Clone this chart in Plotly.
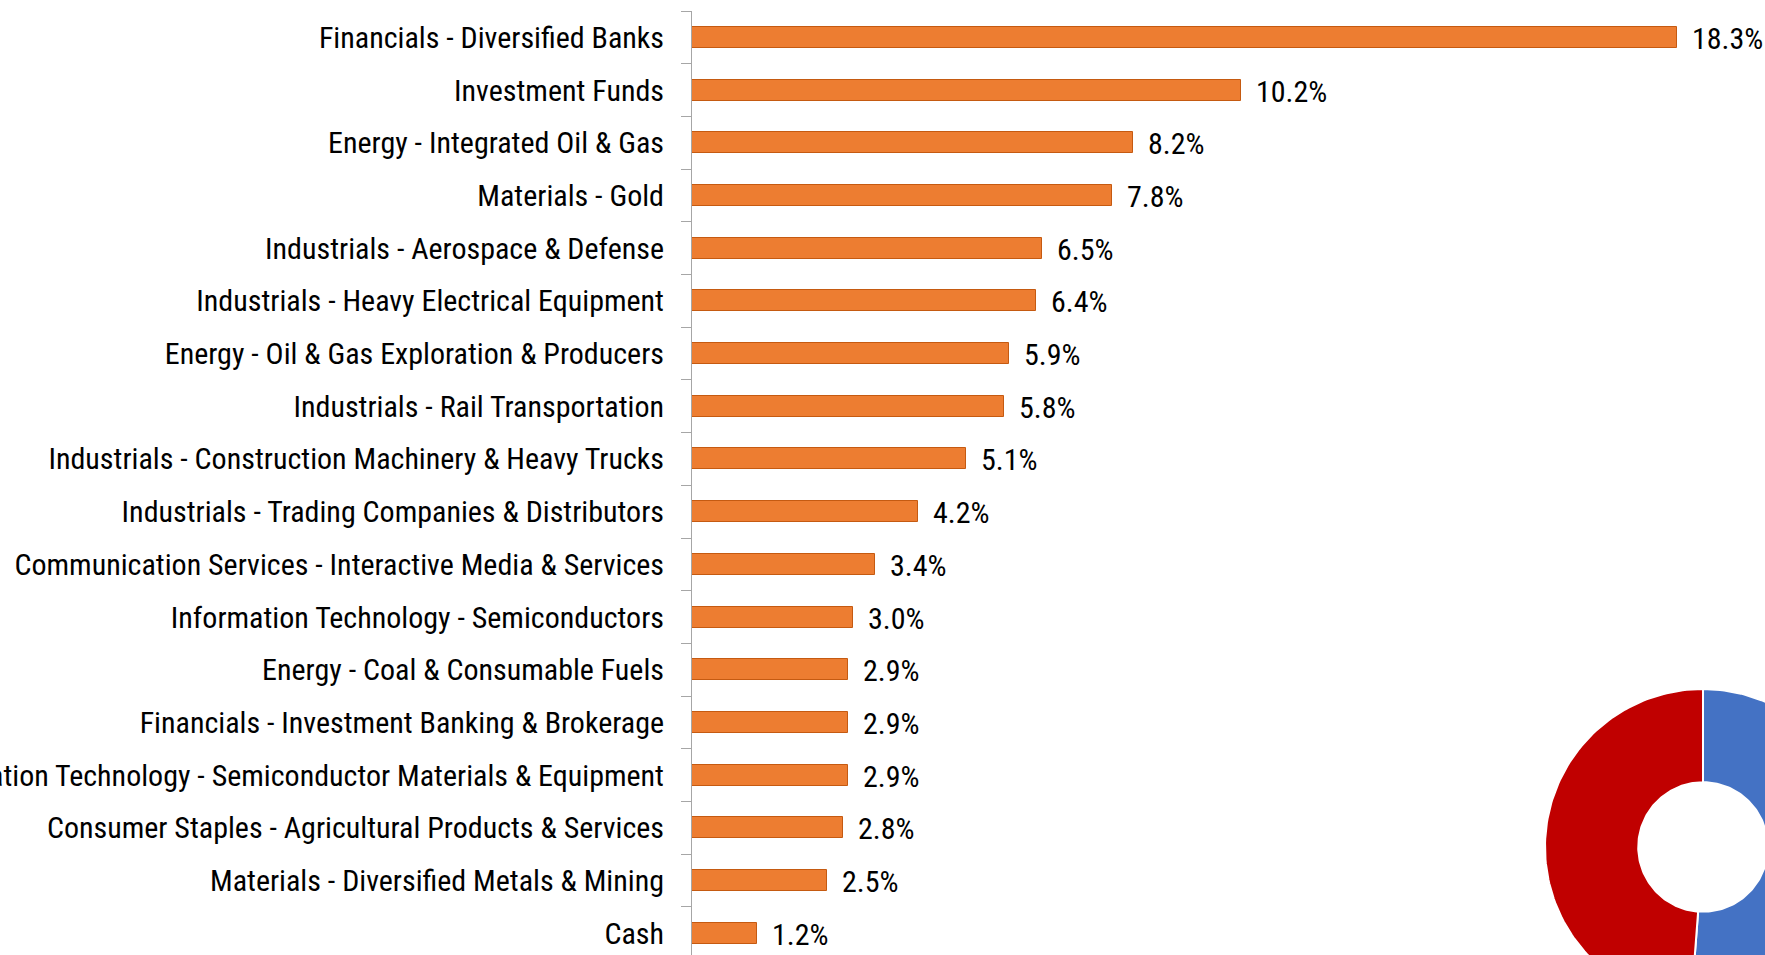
import numpy as np
import plotly.graph_objects as go

# Data
# ----------------------------
sectors = [
    "Financials - Diversified Banks",
    "Investment Funds",
    "Energy - Integrated Oil & Gas",
    "Materials - Gold",
    "Industrials - Aerospace & Defense",
    "Industrials - Heavy Electrical Equipment",
    "Energy - Oil & Gas Exploration & Producers",
    "Industrials - Rail Transportation",
    "Industrials - Construction Machinery & Heavy Trucks",
    "Industrials - Trading Companies & Distributors",
    "Communication Services - Interactive Media & Services",
    "Information Technology - Semiconductors",
    "Energy - Coal & Consumable Fuels",
    "Financials - Investment Banking & Brokerage",
    "Information Technology - Semiconductor Materials & Equipment",
    "Consumer Staples - Agricultural Products & Services",
    "Materials - Diversified Metals & Mining",
    "Cash",
]
weights = [18.3, 10.2, 8.2, 7.8, 6.5, 6.4, 5.9, 5.8, 5.1, 4.2,
           3.4, 3.0, 2.9, 2.9, 2.9, 2.8, 2.5, 1.2]

donut_labels = ["Blue", "Red"]
donut_values = [51.2, 48.8]
donut_colors = ["#4472C4", "#C00000"]

FONT = "Liberation Sans Narrow, Arial Narrow, Roboto Condensed, sans-serif"
FONT_SIZE = 30
W, H = 1765, 955
L, T = 692, 11
px_per_pct = 53.8
row_px = 52.7

fig = go.Figure()

# Bars
# ----------------------------
fig.add_trace(
    go.Bar(
        x=weights,
        y=sectors,
        orientation="h",
        width=0.4,
        marker=dict(color="#ED7D31", line=dict(color="#C55A11", width=1)),
        showlegend=False,
        hoverinfo="x+y",
    )
)

annotations = []
for s, w in zip(sectors, weights):
    annotations.append(
        dict(
            x=w, y=s, xref="x", yref="y",
            text=f"{w:.1f}%",
            showarrow=False,
            xanchor="left",
            xshift=13,
            yshift=-1,
            font=dict(family=FONT, size=FONT_SIZE, color="#000000"),
        )
    )

# Donut (partly off the page, so drawn as filled polygons)
# ----------------------------
r_out, r_in = 1.0, 0.41
cx_px, cy_px, rad_px = 1703, 847, 158
total = sum(donut_values)
start = 0.0
for lab, val, col in zip(donut_labels, donut_values, donut_colors):
    a0 = start / total * 2 * np.pi
    a1 = (start + val) / total * 2 * np.pi
    start += val
    th = np.linspace(a0, a1, 120)
    xs = np.concatenate([r_out * np.sin(th), r_in * np.sin(th[::-1])])
    ys = np.concatenate([r_out * np.cos(th), r_in * np.cos(th[::-1])])
    fig.add_trace(
        go.Scatter(
            x=np.append(xs, xs[0]),
            y=np.append(ys, ys[0]),
            mode="lines",
            fill="toself",
            fillcolor=col,
            line=dict(color="white", width=2),
            xaxis="x2",
            yaxis="y2",
            name=lab,
            showlegend=False,
            hoverinfo="name",
        )
    )

# Layout
# ----------------------------
plot_w = W - L
plot_h = H - T

d_left_px, d_top_px = 1480, 620
x2_dom = [(d_left_px - L) / plot_w, 1]
y2_dom = [0, (H - d_top_px) / plot_h]
x2_range = [(d_left_px - cx_px) / rad_px, (W - cx_px) / rad_px]
y2_range = [(cy_px - H) / rad_px, (cy_px - d_top_px) / rad_px]

fig.update_layout(
    width=W,
    height=H,
    margin=dict(l=L, r=0, t=T, b=0, autoexpand=False),
    paper_bgcolor="white",
    plot_bgcolor="white",
    bargap=0,
    annotations=annotations,
    xaxis=dict(
        visible=False,
        range=[0, plot_w / px_per_pct],
        fixedrange=True,
    ),
    yaxis=dict(
        type="category",
        categoryorder="array",
        categoryarray=sectors,
        range=[-0.5 + plot_h / row_px, -0.5],
        showline=True,
        linecolor="#A6A6A6",
        linewidth=1,
        ticks="outside",
        tickson="boundaries",
        ticklen=10,
        tickcolor="#A6A6A6",
        ticklabelstandoff=21,
        showgrid=False,
        zeroline=False,
        automargin=False,
        tickfont=dict(family=FONT, size=FONT_SIZE, color="#000000"),
    ),
    xaxis2=dict(
        domain=x2_dom, range=x2_range, visible=False, anchor="y2", fixedrange=True,
    ),
    yaxis2=dict(
        domain=y2_dom, range=y2_range, visible=False, anchor="x2", fixedrange=True,
    ),
)

# no page margin / scrollbars, so the figure fills the window exactly
fig.write_html(
    "out.html",
    config={"displayModeBar": False},
    post_script="document.body.style.margin='0';document.body.style.overflow='hidden';",
)
